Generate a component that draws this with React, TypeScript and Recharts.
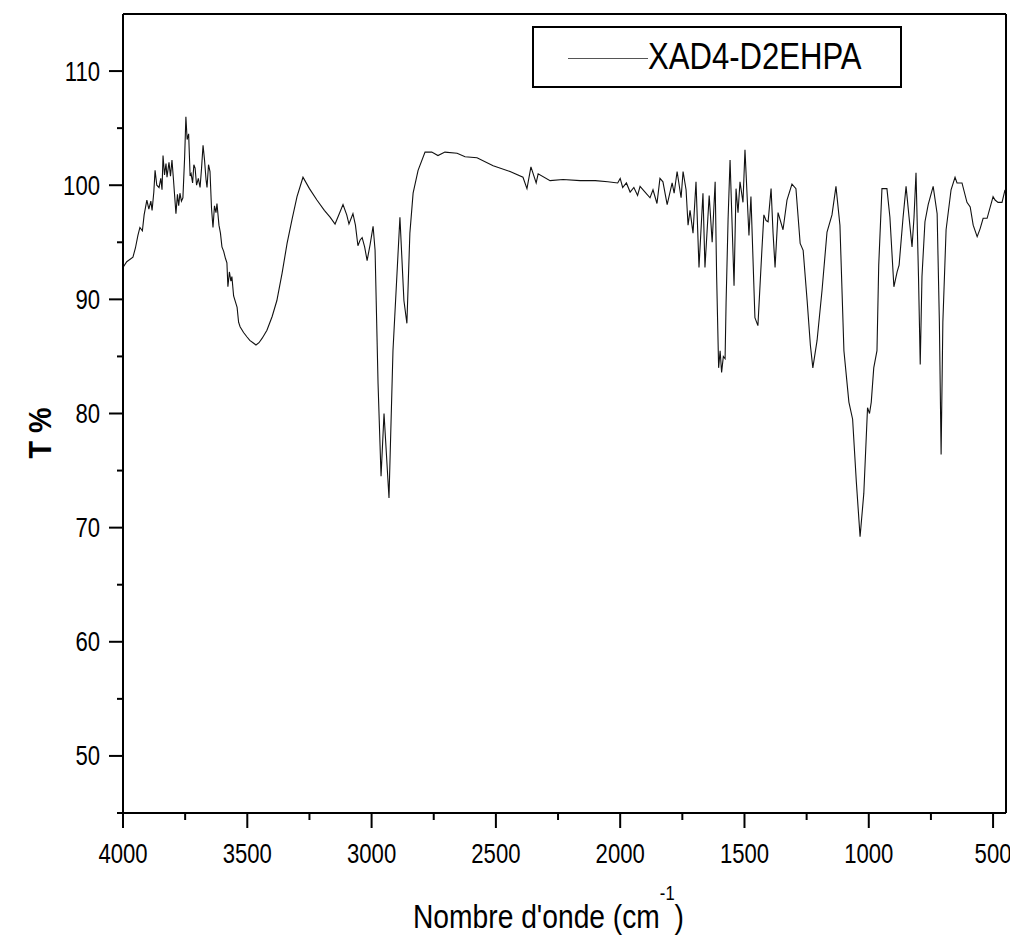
import React from "react";
import { LineChart, Line, XAxis, YAxis, ReferenceLine, Label } from "recharts";

// wavenumber (cm-1), transmittance (%)
const ohRegion: [number, number][] = [
  [4000, 92.8], [3985, 93.3], [3960, 93.7], [3950, 94.5], [3940, 95.6], [3932, 96.3],
  [3922, 96.0], [3915, 97.4], [3904, 98.7], [3896, 97.9], [3888, 98.6], [3883, 97.8],
  [3876, 99.4], [3871, 101.3], [3864, 100.0], [3855, 99.8], [3848, 100.6], [3843, 99.6],
  [3839, 102.6], [3833, 100.9], [3827, 101.9], [3823, 100.7], [3815, 102.0], [3809, 100.8],
  [3803, 102.2], [3797, 100.5], [3792, 99.0], [3787, 97.5], [3781, 99.2], [3776, 98.2],
  [3771, 99.3], [3765, 98.6], [3759, 98.9], [3752, 102.5], [3747, 106.0], [3742, 104.0],
  [3736, 104.5], [3730, 100.8], [3726, 101.0], [3720, 100.2], [3715, 101.8], [3710, 101.5],
  [3704, 100.0], [3697, 100.6], [3690, 99.8], [3684, 101.5], [3678, 103.5], [3672, 102.2],
  [3666, 100.5], [3662, 99.8], [3656, 101.8], [3650, 101.2], [3644, 98.0], [3638, 96.3],
  [3632, 98.2], [3626, 97.6], [3622, 98.4], [3614, 96.5], [3608, 95.8], [3602, 94.6],
  [3595, 94.2], [3588, 93.6], [3582, 93.2], [3578, 91.1], [3572, 92.4], [3566, 91.6],
  [3562, 92.0], [3555, 90.3], [3548, 89.8], [3541, 89.3], [3535, 88.0], [3529, 87.6],
  [3515, 87.1], [3501, 86.7], [3490, 86.4], [3477, 86.2], [3465, 86.0], [3453, 86.2],
  [3440, 86.6], [3421, 87.3], [3400, 88.5], [3381, 89.9], [3360, 92.3], [3340, 94.9],
  [3320, 97.0], [3300, 99.0], [3276, 100.7],
];

const chRegion: [number, number][] = [
  [3250, 99.7], [3220, 98.7], [3190, 97.8], [3167, 97.2], [3147, 96.6], [3130, 97.5],
  [3115, 98.3], [3100, 97.4], [3091, 96.6], [3075, 97.5], [3065, 96.5], [3055, 94.7],
  [3046, 95.2], [3038, 95.4], [3028, 94.6], [3018, 93.4], [3006, 94.8], [2994, 96.4],
  [2986, 94.3], [2974, 82.6], [2962, 74.5], [2950, 80.0], [2930, 72.6], [2914, 85.5],
  [2886, 97.2], [2870, 89.9], [2858, 87.9], [2846, 95.8], [2833, 99.3], [2813, 101.3],
  [2785, 102.9], [2758, 102.9], [2733, 102.6], [2705, 102.9], [2656, 102.8], [2624, 102.5],
  [2576, 102.4], [2511, 101.7], [2443, 101.2], [2391, 100.7], [2375, 99.7], [2359, 101.6],
  [2338, 100.2], [2330, 101.0], [2282, 100.4], [2230, 100.5], [2161, 100.4], [2100, 100.4],
  [2050, 100.3], [2010, 100.2], [2000, 100.6], [1990, 99.8], [1975, 100.2], [1960, 99.4],
  [1945, 99.8], [1930, 99.1],
];

const carbonylRegion: [number, number][] = [
  [1920, 99.9], [1900, 99.4], [1880, 98.9], [1868, 99.6], [1852, 98.4], [1840, 100.6],
  [1828, 100.3], [1811, 98.3], [1791, 100.2], [1783, 99.3], [1771, 101.2], [1755, 98.9],
  [1747, 101.2], [1735, 99.6], [1727, 96.5], [1719, 97.8], [1707, 95.8], [1695, 100.3],
  [1683, 92.8], [1667, 99.3], [1659, 92.8], [1642, 99.1], [1630, 95.0], [1618, 100.3],
  [1612, 92.0], [1604, 84.0], [1598, 85.5], [1592, 83.6], [1585, 85.0], [1578, 84.8],
  [1574, 89.7], [1566, 97.0], [1558, 102.2], [1542, 91.2], [1534, 99.7], [1526, 97.6],
  [1518, 100.3], [1506, 98.5], [1498, 103.1], [1482, 95.6], [1474, 99.0], [1458, 88.4],
  [1446, 87.7], [1430, 94.3], [1422, 97.4], [1413, 96.9], [1405, 96.8], [1393, 99.7],
  [1385, 95.8], [1377, 92.8], [1365, 97.6], [1345, 96.1], [1329, 98.7], [1309, 100.1],
];

const fingerprint: [number, number][] = [
  [1293, 99.7], [1276, 94.9], [1264, 94.3], [1248, 89.9], [1235, 86.0], [1225, 84.0],
  [1208, 86.4], [1188, 90.8], [1168, 95.9], [1148, 97.4], [1132, 99.9], [1116, 96.5],
  [1100, 85.5], [1080, 81.0], [1065, 79.5], [1050, 74.0], [1035, 69.2], [1020, 73.0],
  [1005, 80.5], [997, 80.0], [990, 81.0], [980, 84.0], [967, 85.5], [960, 93.0],
  [947, 99.7], [927, 99.7], [915, 97.2], [899, 91.1], [886, 92.4], [878, 93.0],
  [862, 97.2], [850, 99.9], [838, 97.2], [826, 94.6], [818, 97.2], [810, 101.1],
  [800, 92.0], [793, 84.3], [786, 92.0], [774, 96.8], [761, 98.3], [741, 99.9],
  [725, 97.5], [716, 88.0], [709, 76.4], [702, 88.0], [689, 96.1], [669, 99.6],
  [653, 100.7], [645, 100.2], [625, 100.2], [605, 98.5], [592, 98.1], [580, 96.5],
  [564, 95.5], [552, 96.2], [540, 97.1], [524, 97.1], [500, 99.0], [492, 98.7],
  [480, 98.5], [464, 98.5], [452, 99.6],
];

const xTicks = [4000, 3750, 3500, 3250, 3000, 2750, 2500, 2250, 2000, 1750, 1500, 1250, 1000, 750, 500];
const yTicks = [45, 50, 55, 60, 65, 70, 75, 80, 85, 90, 95, 100, 105, 110];

const data = [...ohRegion, ...chRegion, ...carbonylRegion, ...fingerprint].map(([wn, t]) => ({ wn, t }));

// no narrow face installed, so squeeze Liberation Sans horizontally
const font = "'Liberation Sans', Arial, sans-serif";
const narrow = 0.82;

const XTick = (props: any) => {
  const { x, y, payload } = props;
  const major = payload.value % 500 === 0;
  return (
    <g>
      <line x1={x} y1={y} x2={x} y2={y + (major ? 15 : 7)} stroke="#000" strokeWidth={2} />
      {major && (
        <text
          transform={`translate(${x},${y + 50}) scale(${narrow},1)`}
          textAnchor="middle"
          fontSize={27}
          fontFamily={font}
          fill="#000"
        >
          {payload.value}
        </text>
      )}
    </g>
  );
};

const YTick = (props: any) => {
  const { x, y, payload } = props;
  const major = payload.value % 10 === 0;
  return (
    <g>
      <line x1={x - (major ? 14 : 6)} y1={y} x2={x} y2={y} stroke="#000" strokeWidth={2} />
      {major && (
        <text
          transform={`translate(${x - 23},${y + 9.5}) scale(${narrow},1)`}
          textAnchor="end"
          fontSize={27}
          fontFamily={font}
          fill="#000"
        >
          {payload.value}
        </text>
      )}
    </g>
  );
};

const XTitle = () => (
  <text transform={`translate(405,920) scale(0.83,1)`} fontSize={34} fontFamily={font} fill="#000">
    Nombre d'onde (cm
    <tspan fontSize={20} dy={-28}>-1</tspan>
    <tspan dy={28}>)</tspan>
  </text>
);

const YTitle = () => (
  <text
    transform="translate(43, 425) rotate(-90) scale(0.9,1)"
    textAnchor="middle"
    fontSize={32}
    fontWeight="bold"
    fontFamily={font}
    fill="#000"
  >
    T %
  </text>
);

export default function App() {
  return (
    <div style={{ position: "relative", width: 1010, height: 929 }}>
      <LineChart width={1010} height={929} data={data} margin={{ top: 6, right: 12, bottom: 64, left: 15 }}>
        <XAxis
          dataKey="wn"
          type="number"
          domain={[448, 4000]}
          reversed
          allowDataOverflow
          ticks={xTicks}
          interval={0}
          tickSize={0}
          tickMargin={0}
          tick={<XTick />}
          height={60}
          axisLine={{ stroke: "#000", strokeWidth: 2 }}
        >
          <Label content={<XTitle />} />
        </XAxis>
        <YAxis
          type="number"
          domain={[45, 115]}
          allowDataOverflow
          ticks={yTicks}
          interval={0}
          tickSize={0}
          tickMargin={0}
          tick={<YTick />}
          width={100}
          axisLine={{ stroke: "#000", strokeWidth: 2 }}
        >
          <Label content={<YTitle />} />
        </YAxis>
        <ReferenceLine y={115} stroke="#000" strokeWidth={2} />
        <ReferenceLine x={448} stroke="#000" strokeWidth={2} />
        <Line
          type="linear"
          dataKey="t"
          stroke="#111"
          strokeWidth={1.1}
          dot={false}
          isAnimationActive={false}
        />
      </LineChart>
      <div
        style={{
          position: "absolute",
          left: 524,
          top: 18,
          width: 366,
          height: 58,
          border: "2px solid #000",
          background: "#fff",
          boxSizing: "content-box",
        }}
      >
        <div style={{ position: "absolute", left: 34, top: 30, width: 80, borderTop: "1.5px solid #555" }} />
        <div
          style={{
            position: "absolute",
            left: 114,
            top: 9,
            fontFamily: font,
            fontSize: 37,
            lineHeight: "40px",
            color: "#000",
            whiteSpace: "nowrap",
            transform: "scaleX(0.84)",
            transformOrigin: "left center",
          }}
        >
          XAD4-D2EHPA
        </div>
      </div>
    </div>
  );
}
